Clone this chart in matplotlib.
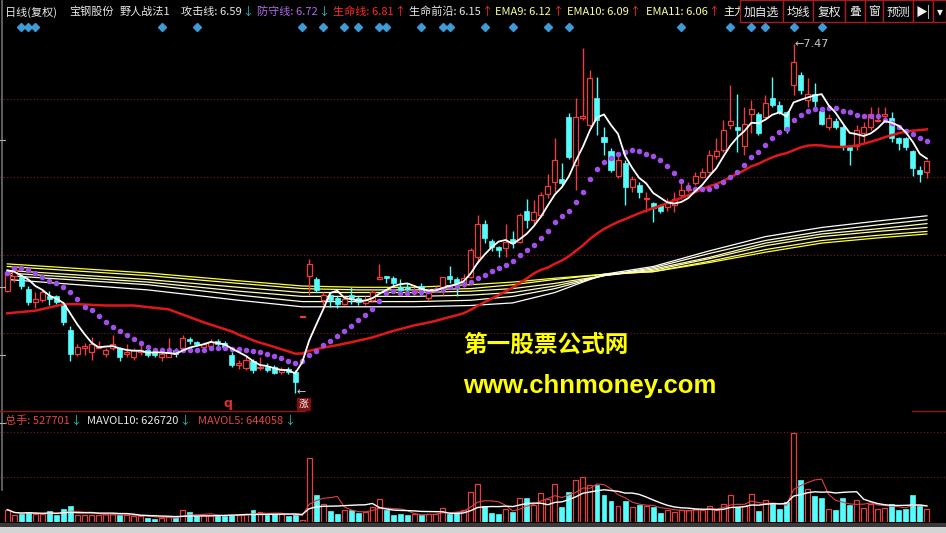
import numpy as np
import pandas as pd
import matplotlib
matplotlib.use('Agg')
import matplotlib.pyplot as plt
from matplotlib.patches import Rectangle
from matplotlib.lines import Line2D
from matplotlib.transforms import Bbox, TransformedBbox

plt.rcParams['font.family'] = ['Noto Sans CJK SC', 'DejaVu Sans']

# ---- daily candles (复权) ----
opens = [5.57, 5.69, 5.68, 5.59, 5.49, 5.50, 5.53, 5.53, 5.46, 5.27,
         5.09, 5.13, 5.10, 5.13, 5.09, 5.13, 5.13, 5.09, 5.06, 5.10,
         5.12, 5.10, 5.06, 5.06, 5.12, 5.13, 5.20, 5.18, 5.14, 5.15,
         5.19, 5.17, 5.08, 5.00, 4.98, 5.03, 4.98, 4.99, 4.99, 4.95,
         4.97, 4.95, 5.37, 5.69, 5.66, 5.50, 5.54, 5.52, 5.47, 5.54,
         5.52, 5.48, 5.50, 5.66, 5.69, 5.67, 5.60, 5.60, 5.56, 5.61,
         5.52, 5.57, 5.60, 5.69, 5.66, 5.63, 5.68, 5.83, 6.09, 5.96,
         5.91, 5.90, 5.97, 5.95, 6.19, 6.12, 6.16, 6.32, 6.41, 6.43,
         6.91, 6.54, 6.90, 6.85, 7.06, 6.76, 6.65, 6.46, 6.56, 6.37,
         6.39, 6.28, 6.25, 6.23, 6.22, 6.23, 6.31, 6.35, 6.40, 6.45,
         6.49, 6.61, 6.66, 6.85, 6.83, 6.69, 6.93, 6.93, 6.91, 7.06,
         7.00, 6.95, 7.16, 7.23, 7.04, 7.09, 6.96, 6.83, 6.88, 6.83,
         6.68, 6.69, 6.79, 6.83, 6.88, 6.92, 6.90, 6.75, 6.75, 6.65,
         6.50, 6.49]
highs = [5.72, 5.76, 5.70, 5.61, 5.56, 5.58, 5.57, 5.54, 5.48, 5.30,
         5.16, 5.17, 5.22, 5.19, 5.13, 5.23, 5.14, 5.16, 5.13, 5.16,
         5.13, 5.12, 5.12, 5.21, 5.13, 5.23, 5.22, 5.19, 5.18, 5.20,
         5.20, 5.19, 5.10, 5.04, 5.07, 5.05, 5.06, 5.02, 5.00, 4.99,
         4.99, 4.96, 5.38, 5.82, 5.68, 5.56, 5.56, 5.53, 5.53, 5.60,
         5.53, 5.53, 5.58, 5.78, 5.69, 5.69, 5.66, 5.63, 5.60, 5.63,
         5.58, 5.61, 5.68, 5.76, 5.68, 5.70, 5.90, 6.16, 6.12, 5.97,
         5.92, 6.09, 6.03, 6.17, 6.28, 6.27, 6.33, 6.47, 6.75, 6.56,
         6.94, 7.06, 7.44, 7.27, 7.22, 6.83, 6.67, 6.62, 6.58, 6.46,
         6.41, 6.33, 6.26, 6.24, 6.29, 6.33, 6.41, 6.41, 6.49, 6.52,
         6.66, 6.75, 6.89, 7.16, 7.09, 6.99, 7.04, 6.95, 7.08, 7.22,
         7.03, 6.96, 7.47, 7.26, 7.21, 7.17, 6.97, 6.93, 6.90, 6.85,
         6.69, 6.85, 6.87, 6.99, 6.99, 6.99, 6.95, 6.76, 6.76, 6.66,
         6.53, 6.58]
lows = [5.56, 5.64, 5.59, 5.46, 5.44, 5.49, 5.46, 5.47, 5.31, 5.03,
        5.07, 5.08, 5.04, 5.13, 5.06, 5.12, 5.03, 5.06, 5.04, 5.08,
        5.06, 5.06, 5.03, 5.06, 5.06, 5.12, 5.16, 5.15, 5.13, 5.13,
        5.14, 5.12, 4.99, 4.97, 4.96, 4.94, 4.96, 4.95, 4.93, 4.93,
        4.93, 4.79, 5.37, 5.54, 5.56, 5.46, 5.45, 5.44, 5.46, 5.47,
        5.46, 5.46, 5.49, 5.66, 5.63, 5.62, 5.56, 5.56, 5.54, 5.54,
        5.50, 5.56, 5.54, 5.63, 5.53, 5.60, 5.67, 5.79, 5.94, 5.88,
        5.83, 5.83, 5.90, 5.94, 6.06, 6.09, 6.14, 6.29, 6.33, 6.39,
        6.59, 6.35, 6.89, 6.83, 6.77, 6.62, 6.49, 6.44, 6.23, 6.33,
        6.29, 6.18, 6.10, 6.17, 6.19, 6.18, 6.28, 6.33, 6.39, 6.44,
        6.48, 6.59, 6.64, 6.82, 6.64, 6.62, 6.79, 6.77, 6.90, 6.99,
        6.93, 6.79, 7.08, 7.09, 6.99, 6.96, 6.85, 6.81, 6.82, 6.66,
        6.54, 6.66, 6.71, 6.81, 6.87, 6.90, 6.72, 6.66, 6.66, 6.46,
        6.41, 6.44]
closes = [5.71, 5.73, 5.61, 5.49, 5.51, 5.56, 5.51, 5.49, 5.33, 5.09,
          5.14, 5.15, 5.16, 5.15, 5.12, 5.16, 5.06, 5.10, 5.12, 5.12,
          5.08, 5.08, 5.09, 5.10, 5.09, 5.21, 5.19, 5.16, 5.16, 5.18,
          5.16, 5.14, 5.00, 5.02, 5.04, 4.96, 4.99, 4.96, 4.94, 4.97,
          4.95, 4.87, 5.38, 5.78, 5.58, 5.54, 5.50, 5.47, 5.51, 5.52,
          5.49, 5.50, 5.56, 5.68, 5.67, 5.63, 5.58, 5.59, 5.58, 5.56,
          5.56, 5.59, 5.68, 5.66, 5.63, 5.67, 5.89, 6.09, 5.98, 5.91,
          5.89, 5.95, 5.94, 6.16, 6.12, 6.18, 6.31, 6.38, 6.58, 6.40,
          6.60, 6.91, 6.92, 7.21, 6.89, 6.72, 6.50, 6.58, 6.37, 6.43,
          6.33, 6.29, 6.21, 6.19, 6.25, 6.28, 6.35, 6.36, 6.46, 6.49,
          6.62, 6.65, 6.81, 6.88, 6.81, 6.86, 6.97, 6.79, 7.02, 7.00,
          6.95, 6.81, 7.33, 7.12, 7.09, 7.03, 6.86, 6.90, 6.83, 6.69,
          6.66, 6.81, 6.83, 6.93, 6.89, 6.93, 6.75, 6.71, 6.68, 6.52,
          6.47, 6.57]
# 总手, in 万手
volumes = [48.9, 26.4, 30.3, 39.4, 30.3, 30.3, 43.3, 26.4, 50.0, 61.9,
           26.4, 26.4, 28.8, 26.4, 30.3, 30.3, 26.4, 26.4, 23.6, 22.5,
           16.9, 13.0, 16.9, 19.7, 15.8, 46.1, 39.4, 22.5, 26.4, 26.4,
           23.6, 23.6, 28.8, 26.4, 32.7, 46.1, 39.4, 26.4, 30.3, 32.7,
           22.5, 32.7, 6.7, 253.7, 105.2, 69.7, 43.3, 32.7, 46.1, 46.1,
           35.5, 39.4, 59.1, 91.8, 48.5, 26.4, 30.3, 26.4, 32.7, 26.4,
           32.7, 32.7, 56.3, 32.7, 39.4, 48.5, 118.2, 150.9, 61.9, 35.5,
           30.3, 51.2, 39.4, 95.7, 95.7, 65.8, 114.3, 91.8, 150.9, 59.1,
           118.2, 164.3, 177.3, 144.6, 144.6, 105.2, 82.7, 61.9, 82.7, 59.1,
           65.8, 61.9, 59.1, 35.5, 46.1, 39.4, 48.5, 48.5, 52.4, 46.1,
           61.9, 48.5, 72.1, 106.4, 59.1, 61.9, 111.5, 43.3, 87.9, 69.7,
           50.0, 78.8, 352.2, 164.3, 131.2, 101.3, 95.7, 52.4, 46.1, 95.7,
           65.8, 87.9, 56.3, 72.1, 52.4, 56.3, 69.7, 48.5, 52.4, 107.6,
           61.9, 52.77]

# line values before the moving averages have a full window (from the picture)
ma5_head = [5.73, 5.72, 5.69, 5.66]
ma13_head = [5.71, 5.75, 5.75, 5.73, 5.71, 5.68, 5.65, 5.63, 5.60, 5.56, 5.51, 5.45]
ma34_head_idx = [0, 4, 8, 10, 14, 18, 23, 26, 28, 32]
ma34_head_val = [5.40, 5.42, 5.47, 5.47, 5.46, 5.46, 5.43, 5.37, 5.33, 5.26]

# slow band (生命前沿 / EMA lines), sampled along the chart
band_idx = [0, 20, 33, 42, 50, 58, 66, 72, 78, 85, 92, 100, 108, 116, 124, 131]
band_a = [5.78, 5.71, 5.65, 5.61, 5.60, 5.60, 5.62, 5.64, 5.67, 5.70, 5.72, 5.79, 5.87, 5.94, 5.98, 6.01]
band_b = [5.76, 5.69, 5.63, 5.59, 5.58, 5.58, 5.59, 5.62, 5.66, 5.70, 5.72, 5.80, 5.89, 5.96, 6.00, 6.03]
band_c = [5.73, 5.66, 5.60, 5.56, 5.56, 5.56, 5.57, 5.59, 5.63, 5.69, 5.73, 5.82, 5.92, 5.99, 6.03, 6.06]
band_d = [5.71, 5.64, 5.57, 5.53, 5.53, 5.53, 5.54, 5.56, 5.61, 5.69, 5.74, 5.83, 5.94, 6.01, 6.05, 6.09]
band_e = [5.69, 5.62, 5.54, 5.49, 5.49, 5.49, 5.50, 5.53, 5.59, 5.69, 5.75, 5.86, 5.96, 6.03, 6.08, 6.12]
band_f = [5.66, 5.58, 5.50, 5.45, 5.45, 5.45, 5.46, 5.48, 5.56, 5.70, 5.76, 5.88, 5.99, 6.06, 6.11, 6.15]

signal_idx = [2, 3, 4, 22, 27, 42, 45, 48, 50, 53, 54, 59, 62, 63, 68, 72, 77, 80, 96, 103, 106, 108, 112, 116]
price_grid = [5.25, 5.85, 6.45, 7.05]
vol_grid = [176, 353]

W, H = 946, 533
RED = '#f03c3c'
CYAN = '#54fcfc'
PURPLE = '#a050e6'


def fx(px):
    return px / W


def fy(py):
    return 1 - py / H


o = np.array(opens)
h = np.array(highs)
l = np.array(lows)
c = np.array(closes)
v = np.array(volumes)
n = len(c)
idx = np.arange(n)
up = c >= o

fig = plt.figure(figsize=(9.46, 5.33), dpi=100, facecolor='black')
renderer = fig.canvas.get_renderer()

# ---- price panel ----
ax = fig.add_axes([0, fy(410), 1, (410 - 22) / H])
ax.set_axis_off()
ax.set_xlim(-1.04, 133.72)
ax.set_ylim(4.656, 7.641)
for g in price_grid:
    ax.axhline(g, color='#7d1f1f', lw=0.8, ls=(0, (1, 2)), zorder=0)

band_cols = ['#ffff30', '#ffff70', '#ffffa0', '#ffffb8', '#ffffd8', '#ffffff']
for vals, col in zip([band_a, band_b, band_c, band_d, band_e, band_f], band_cols):
    ax.plot(band_idx, vals, color=col, lw=0.9, zorder=1)

ax.vlines(idx, l, h, colors=[RED if u else CYAN for u in up], lw=1, zorder=2)
ax.bar(idx[up], (c - o)[up], bottom=o[up], width=0.72, facecolor='black',
       edgecolor=RED, linewidth=0.9, zorder=3)
ax.bar(idx[~up], (o - c)[~up], bottom=c[~up], width=0.72, facecolor=CYAN,
       edgecolor=CYAN, linewidth=0.5, zorder=3)

cs = pd.Series(c)
ma5 = cs.rolling(5).mean().to_numpy()
ma5[:4] = ma5_head
ma13 = cs.rolling(13).mean().to_numpy()
ma13[:12] = ma13_head
ma34 = cs.rolling(34).mean().to_numpy()
red_x = np.r_[ma34_head_idx, idx[33:]]
red_y = np.r_[ma34_head_val, ma34[33:]]

ax.plot(red_x, red_y, color='#e01818', lw=1.8, zorder=4)
ax.plot(idx, ma13, ls='none', marker='o', ms=3.0, mfc=PURPLE, mec=PURPLE, zorder=5)
ax.plot(idx, ma5, color='white', lw=1.3, zorder=6)

ax.plot(signal_idx, [0.987] * len(signal_idx), ls='none', marker='D', ms=4.5,
        color='#3d9bd6', transform=ax.get_xaxis_transform(), clip_on=False)

imax = int(np.argmax(h))
imin = int(np.argmin(l))
ax.annotate('←' + f'{h[imax]:.2f}', xy=(imax, h[imax]), xytext=(1, 0),
            textcoords='offset points', ha='left', va='center', color='#c8c8c8',
            fontsize=8, family='DejaVu Sans', zorder=7)
ax.annotate('←', xy=(imin, l[imin]), xytext=(1, 0), textcoords='offset points',
            ha='left', va='center', color='#c8c8c8', fontsize=8, family='DejaVu Sans')
ax.text(31.4, 0.016, 'q', transform=ax.get_xaxis_transform(), color='#e03030',
        fontsize=9, fontweight='bold', ha='center', va='center', family='DejaVu Sans')
ax.text(42.2, 0.016, '涨', transform=ax.get_xaxis_transform(), color='white',
        fontsize=7, ha='center', va='center',
        bbox=dict(boxstyle='square,pad=0.12', fc='#7a1010', ec='#7a1010'))

# ---- volume panel ----
vax = fig.add_axes([0, fy(522), 1, (522 - 412) / H])
vax.set_axis_off()
vax.set_xlim(-1.04, 133.72)
vax.set_ylim(0, 433.4)
for g in vol_grid:
    vax.axhline(g, color='#7d1f1f', lw=0.8, ls=(0, (1, 2)), zorder=0)
vax.bar(idx[up], v[up], width=0.7, facecolor='black', edgecolor='#e04040',
        linewidth=0.9, zorder=2)
vax.bar(idx[~up], v[~up], width=0.7, facecolor=CYAN, edgecolor=CYAN,
        linewidth=0.5, zorder=2)
vs = pd.Series(v)
vax.plot(idx, vs.rolling(5, min_periods=1).mean(), color='#e04040', lw=0.8, zorder=3)
vax.plot(idx, vs.rolling(10, min_periods=1).mean(), color='white', lw=1.0, zorder=3)


# ---- header texts ----
def put_run(x, y, pieces, size=8.0):
    cur = x
    for t, col in pieces:
        txt = fig.text(fx(cur), fy(y), t, color=col, fontsize=size,
                       ha='left', va='center', zorder=3)
        cur = txt.get_window_extent(renderer).x1 + 0.5
    return cur


WT = '#e8e8e8'
YL = '#ffff99'
DN = '#33c4b4'
UPC = '#ff2828'
header = [
    (5, [('日线(复权)', WT)]), (69, [('宝钢股份', WT)]), (120, [('野人战法1', WT)]),
    (181, [('攻击线: 6.59', WT), ('↓', DN)]),
    (256, [('防守线: 6.72', '#b068e8'), ('↓', DN)]),
    (332, [('生命线: 6.81', UPC), ('↑', UPC)]),
    (407, [('生命前沿: 6.15', WT), ('↑', UPC)]),
    (489, [('EMA9: 6.12', YL), ('↑', UPC)]),
    (567, [('EMA10: 6.09', YL), ('↑', UPC)]),
    (646, [('EMA11: 6.06', YL), ('↑', UPC)]),
]
end = 0
for x, pieces in header:
    end = put_run(max(x, end + 3), 12, pieces)
zl = fig.text(fx(max(723, end + 3)), fy(12), '主力', color='#ffffc0', fontsize=8.0,
              ha='left', va='center', zorder=3)
zl.set_clip_box(TransformedBbox(Bbox([[0, 0], [fx(740), 1]]), fig.transFigure))
zl.set_clip_on(True)

edges = [740, 783, 813, 845, 865, 883, 913, 933, 946]
labels = ['加自选', '均线', '复权', '叠', '窗', '预测', '▶|', '▾']
for x0, x1, t in zip(edges[:-1], edges[1:], labels):
    fig.add_artist(Rectangle((fx(x0), fy(22)), fx(x1 - x0), 22 / H, transform=fig.transFigure,
                             fc='black', ec='#a01e1e', lw=1, zorder=5))
    fig.text(fx((x0 + x1) / 2), fy(12), t, color='#f0f0f0', fontsize=8.5,
             ha='center', va='center', zorder=6)

vol_head = [(5, [('总手: 527701', '#e04848'), ('↓', DN)]),
            (87, [('MAVOL10: 626720', WT), ('↓', DN)]),
            (198, [('MAVOL5: 644058', '#e04848'), ('↓', DN)])]
end = 0
for x, pieces in vol_head:
    end = put_run(max(x, end + 3), 421, pieces)

fig.text(fx(463), fy(345), '第一股票公式网', color='#ffff00', fontsize=17,
         fontweight='bold', ha='left', va='center')
fig.text(fx(463), fy(386), 'www.chnmoney.com', color='#ffff00', fontsize=18.5,
         fontweight='bold', ha='left', va='center', family='Liberation Sans')

# frame bits
fig.add_artist(Line2D([fx(2), fx(2)], [fy(0), fy(490)], transform=fig.transFigure,
                      color='#707070', lw=1.2))
for ty in [140, 287, 355, 423]:
    fig.add_artist(Line2D([0, fx(5)], [fy(ty), fy(ty)], transform=fig.transFigure,
                          color='#b0b0b0', lw=0.8))
fig.add_artist(Line2D([0, fx(305)], [fy(410.5), fy(410.5)], transform=fig.transFigure,
                      color='#8b1a1a', lw=1))
fig.add_artist(Line2D([fx(912), 1], [fy(410.5), fy(410.5)], transform=fig.transFigure,
                      color='#8b1a1a', lw=1))
fig.add_artist(Rectangle((0, fy(527)), 1, 4 / H, transform=fig.transFigure,
                         fc='#3a3a3a', ec='none'))
fig.add_artist(Rectangle((0, 0), 1, fy(527), transform=fig.transFigure,
                         fc='#d4d4d4', ec='none'))

fig.savefig('out.png', dpi=100, facecolor='black')
